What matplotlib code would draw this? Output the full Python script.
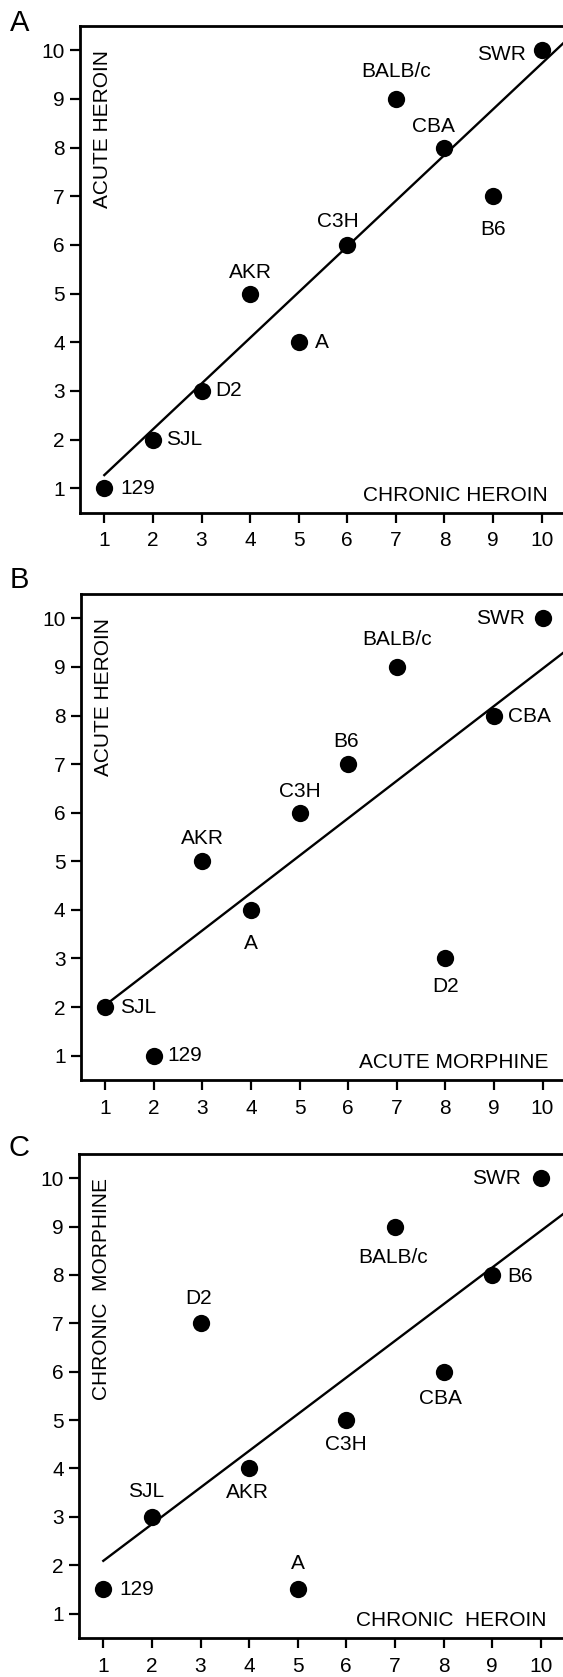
import numpy as np
import matplotlib
matplotlib.use("Agg")
import matplotlib.pyplot as plt

plt.rcParams['font.family'] = ['Liberation Sans', 'DejaVu Sans']

# ---------------- data ----------------
strains = ["129", "SJL", "D2", "AKR", "A", "C3H", "BALB/c", "CBA", "B6", "SWR"]

# Panel A: chronic heroin (x) vs acute heroin (y)
a_x = [1, 2, 3, 4, 5, 6, 7, 8, 9, 10]
a_y = [1, 2, 3, 5, 4, 6, 9, 8, 7, 10]
# Panel B: acute morphine (x) vs acute heroin (y)
b_x = [2, 1, 8, 3, 4, 5, 7, 9, 6, 10]
b_y = [1, 2, 3, 5, 4, 6, 9, 8, 7, 10]
# Panel C: chronic heroin (x) vs chronic morphine (y)
c_x = [1, 2, 3, 4, 5, 6, 7, 8, 9, 10]
c_y = [1.5, 3, 7, 4, 1.5, 5, 9, 6, 8, 10]

ticks = list(range(1, 11))

panels = [
    dict(letter="A", x=a_x, y=a_y, ylabel="ACUTE HEROIN", xlabel="CHRONIC HEROIN",
         pos=[80 / 563, 1 - 512.7 / 1677, 486 / 563, 486.8 / 1677], lab_y=1 - 23.3 / 1677,
         offs={"129": (11.5, 0), "SJL": (9.5, 0), "D2": (10, 0), "AKR": (0, 15),
               "A": (12, 0), "C3H": (-7, 17), "BALB/c": (0, 19.5), "CBA": (-8, 15.5),
               "B6": (0, -24), "SWR": (-11.5, -3)}),
    dict(letter="B", x=b_x, y=b_y, ylabel="ACUTE HEROIN", xlabel="ACUTE MORPHINE",
         pos=[80.8 / 563, 1 - 1079.9 / 1677, 486 / 563, 485.8 / 1677], lab_y=1 - 579.7 / 1677,
         offs={"129": (10, 0), "SJL": (11, 0), "D2": (0, -20), "AKR": (0, 16.5),
               "A": (0, -24), "C3H": (0, 15.5), "BALB/c": (0, 19.5), "CBA": (10, -1),
               "B6": (-1.5, 16.5), "SWR": (-13, 0)}),
    dict(letter="C", x=c_x, y=c_y, ylabel="CHRONIC  MORPHINE", xlabel="CHRONIC  HEROIN",
         pos=[79 / 563, 1 - 1637.8 / 1677, 486 / 563, 483.8 / 1677], lab_y=1 - 1147.9 / 1677,
         offs={"129": (11.5, 0), "SJL": (-4, 18), "D2": (-1.5, 18), "AKR": (-1.5, -17.5),
               "A": (0, 18.5), "C3H": (0, -17.5), "BALB/c": (-1.5, -22), "CBA": (-2, -19),
               "B6": (11, -1), "SWR": (-14, 0)}),
]

fig = plt.figure(figsize=(5.63, 16.77), dpi=100)

FS = 15
for p in panels:
    ax = fig.add_axes(p["pos"])
    xs = np.array(p["x"], dtype=float)
    ys = np.array(p["y"], dtype=float)
    ax.scatter(xs, ys, s=155, color="black", zorder=3, linewidths=0)
    slope, inter = np.polyfit(xs, ys, 1)
    lx = np.array([1.0, 10.6])
    ax.plot(lx, inter + slope * lx, color="black", lw=1.7, zorder=2)
    for name, xv, yv in zip(strains, xs, ys):
        dx, dy = p["offs"][name]
        if dy == 0 or abs(dx) > 8:
            ha = "left" if dx > 0 else "right"
        else:
            ha = "center"
        ax.annotate(name, (xv, yv), xytext=(dx, dy), textcoords="offset points",
                    ha=ha, va="center", fontsize=FS)
    ax.set_xlim(0.5, 10.5)
    ax.set_ylim(0.5, 10.5)
    ax.set_xticks(ticks)
    ax.set_yticks(ticks)
    ax.tick_params(axis="both", direction="out", length=7, width=1.6, labelsize=FS)
    ax.tick_params(axis="x", pad=6.5)
    ax.tick_params(axis="y", pad=4)
    for s in ax.spines.values():
        s.set_linewidth(2.0)
    ax.text(0.046, 0.95, p["ylabel"], transform=ax.transAxes, rotation=90,
            ha="center", va="top", fontsize=FS)
    ax.text(0.962, 0.035, p["xlabel"], transform=ax.transAxes,
            ha="right", va="center", fontsize=FS)
    fig.text(19.5 / 563, p["lab_y"], p["letter"], ha="center", va="center", fontsize=21)

fig.savefig("out.png", dpi=100)
